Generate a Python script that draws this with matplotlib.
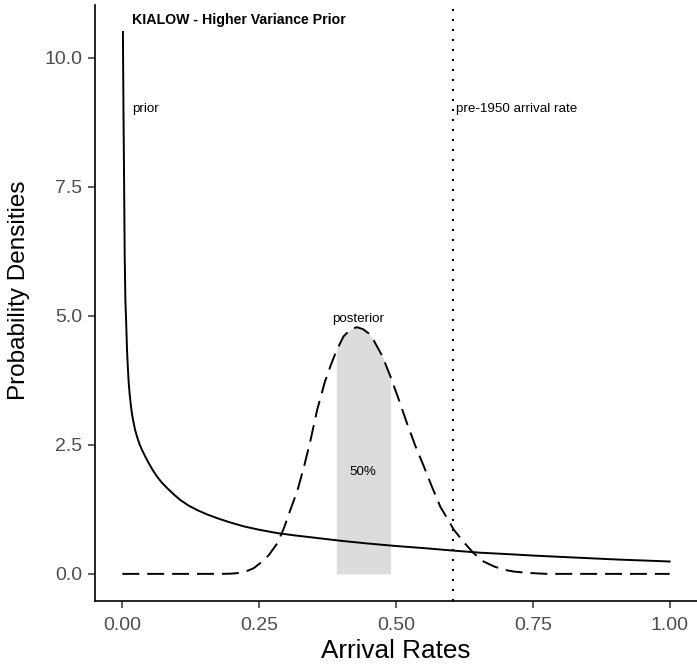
import numpy as np
import matplotlib
matplotlib.use("Agg")
import matplotlib.pyplot as plt

plt.rcParams['font.family'] = ['Liberation Sans', 'DejaVu Sans']

# prior density (solid)
prior_x = [0.001, 0.002, 0.003, 0.0042, 0.0055, 0.0068, 0.0085, 0.01, 0.0116, 0.0136,
           0.0158, 0.018, 0.0207, 0.0235, 0.0268, 0.031, 0.036, 0.042, 0.048, 0.055,
           0.063, 0.072, 0.082, 0.094, 0.106, 0.12, 0.136, 0.153, 0.173, 0.196,
           0.222, 0.25, 0.283, 0.315, 0.344, 0.4, 0.447, 0.5, 0.55, 0.606,
           0.654, 0.7, 0.75, 0.8, 0.85, 0.9, 0.95, 1.0]
prior_y = [10.5, 9.0, 7.83, 6.22, 5.31, 4.92, 4.34, 4.0, 3.70, 3.45,
           3.24, 3.07, 2.92, 2.78, 2.66, 2.52, 2.40, 2.27, 2.15, 2.02,
           1.89, 1.77, 1.66, 1.54, 1.43, 1.33, 1.24, 1.16, 1.08, 1.00,
           0.92, 0.855, 0.79, 0.745, 0.71, 0.64, 0.59, 0.54, 0.50, 0.45,
           0.41, 0.385, 0.355, 0.33, 0.305, 0.28, 0.26, 0.24]

# posterior density (dashed)
post_x = [0.0, 0.05, 0.1, 0.15, 0.19, 0.2, 0.21, 0.22, 0.23, 0.24,
          0.252, 0.26, 0.268, 0.283, 0.295, 0.307, 0.32, 0.332, 0.344, 0.356,
          0.37, 0.38, 0.391, 0.404, 0.417, 0.429, 0.44, 0.45, 0.459, 0.475,
          0.49, 0.505, 0.52, 0.535, 0.551, 0.566, 0.581, 0.595, 0.606, 0.625,
          0.642, 0.66, 0.68, 0.7, 0.715, 0.74, 0.76, 0.776, 0.85, 0.9, 1.0]
post_y = [0, 0, 0, 0, 0.002, 0.005, 0.015, 0.035, 0.065, 0.11,
          0.21, 0.28, 0.37, 0.59, 0.88, 1.24, 1.62, 2.08, 2.60, 3.18,
          3.72, 4.02, 4.32, 4.60, 4.74, 4.78, 4.74, 4.66, 4.53, 4.22,
          3.82, 3.38, 2.92, 2.49, 2.08, 1.68, 1.30, 1.05, 0.85, 0.60,
          0.40, 0.24, 0.14, 0.075, 0.045, 0.02, 0.008, 0.0, 0, 0, 0]

ci_low, ci_high = 0.391, 0.49
pre1950_rate = 0.605

x_ticks = [0.00, 0.25, 0.50, 0.75, 1.00]
y_ticks = [0.0, 2.5, 5.0, 7.5, 10.0]

post_x = np.array(post_x)
post_y = np.array(post_y)

fig = plt.figure(figsize=(6.97, 6.72), dpi=100)
ax = fig.add_axes([0.1363, 0.1057, 0.8637, 0.887])

inside = (post_x >= ci_low) & (post_x <= ci_high)
ax.fill_between(post_x[inside], 0, post_y[inside], color='#dcdcdc', lw=0, zorder=1)

ax.plot(prior_x, prior_y, color='black', lw=1.4, zorder=3)
ax.plot(post_x, post_y, color='black', lw=1.4, linestyle=(0, (8.7, 4.1)), zorder=3)
ax.axvline(pre1950_rate, color='black', lw=1.5, linestyle=(0, (1, 3.8)), zorder=2)

ax.text(0.018, 10.74, 'KIALOW - Higher Variance Prior', fontsize=10.2, fontweight='bold',
        ha='left', va='center')
ax.text(0.018, 9.0, 'prior', fontsize=9.6, ha='left', va='center')
ax.text(0.609, 9.0, 'pre-1950 arrival rate', fontsize=9.6, ha='left', va='center')
ax.text(0.431, 4.94, 'posterior', fontsize=9.6, ha='center', va='center')
ax.text(0.439, 1.98, '50%', fontsize=9.6, ha='center', va='center')

ax.set_xlim(-0.05, 1.05)
ax.set_ylim(-0.525, 11.025)
ax.set_xticks(x_ticks)
ax.set_xticklabels(['%.2f' % v for v in x_ticks])
ax.set_yticks(y_ticks)
ax.set_yticklabels(['%.1f' % v for v in y_ticks])
ax.tick_params(axis='both', labelsize=14, labelcolor='#4d4d4d', color='#333333',
               length=5, width=1.1)
ax.tick_params(axis='x', pad=6.5)
ax.tick_params(axis='y', pad=4)

for side in ['top', 'right']:
    ax.spines[side].set_visible(False)
for side in ['left', 'bottom']:
    ax.spines[side].set_linewidth(1.2)

ax.set_xlabel('Arrival Rates', fontsize=18.8, labelpad=4)
ax.set_ylabel('Probability Densities', fontsize=17.5)
ax.yaxis.set_label_coords(-0.108, 0.522)

plt.savefig('out.png', dpi=100)
